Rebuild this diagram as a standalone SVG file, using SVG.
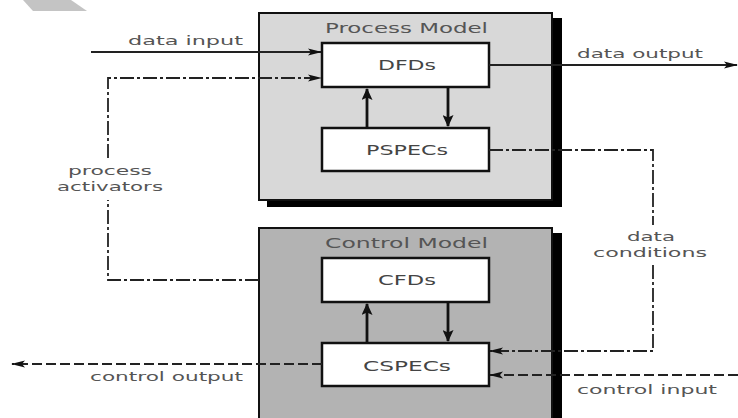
<svg xmlns="http://www.w3.org/2000/svg" width="738" height="418" viewBox="0 0 738 418">
  <style>
    .frame { stroke: #111; stroke-width: 2; }
    .shadow { fill: #000; }
    .box { fill: #fff; stroke: #111; stroke-width: 2.5; }
    .title { font-family: "DejaVu Sans", "Liberation Sans", sans-serif; font-size: 13.5px; fill: #555; }
    .nlabel { font-family: "DejaVu Sans", "Liberation Sans", sans-serif; font-size: 13.5px; fill: #444; text-anchor: middle; }
    .clabel { font-family: "DejaVu Sans", "Liberation Sans", sans-serif; font-size: 12.5px; fill: #555; }
    .stack { font-size: 11.5px; }
    .solid { fill: none; stroke: #222; stroke-width: 1.8; }
    .dashdot { fill: none; stroke: #222; stroke-width: 1.8; stroke-dasharray: 14 3 3 3; }
    .dashed { fill: none; stroke: #222; stroke-width: 1.8; stroke-dasharray: 10 4; }
    .inner { fill: none; stroke: #111; stroke-width: 2.8; }
  </style>
  <defs>
    <marker id="ah" viewBox="0 0 14 8" refX="13" refY="4" markerWidth="14" markerHeight="8" markerUnits="userSpaceOnUse" orient="auto">
      <path d="M0,0.5 L14,4 L0,7.5 L3,4 Z" fill="#111"/>
    </marker>
    <marker id="ah2" viewBox="0 0 12 11" refX="11" refY="5.5" markerWidth="12" markerHeight="11" markerUnits="userSpaceOnUse" orient="auto">
      <path d="M0,0 L12,5.5 L0,11 L2.5,5.5 Z" fill="#111"/>
    </marker>
  </defs>

  <rect width="738" height="418" fill="#fff"/>
  <polygon points="23,0 71,0 87,11 33,11" fill="#c4c4c4"/>

  <g id="process-model">
    <rect class="shadow" x="267" y="18" width="295" height="189"/>
    <rect class="frame" x="259" y="13" width="293" height="187" fill="#d8d8d8"/>
    <text class="title" x="325" y="33" textLength="163" lengthAdjust="spacingAndGlyphs">Process Model</text>
  </g>

  <g id="control-model">
    <rect class="shadow" x="267" y="233" width="295" height="190"/>
    <rect class="frame" x="259" y="228" width="293" height="195" fill="#b3b3b3"/>
    <text class="title" x="325" y="248" textLength="163" lengthAdjust="spacingAndGlyphs">Control Model</text>
  </g>

  <g id="dfds">
    <rect class="box" x="322" y="43" width="167" height="44"/>
    <text class="nlabel" x="407" y="70" textLength="58" lengthAdjust="spacingAndGlyphs">DFDs</text>
  </g>

  <g id="pspecs">
    <rect class="box" x="322" y="128" width="167" height="43"/>
    <text class="nlabel" x="407" y="155" textLength="82" lengthAdjust="spacingAndGlyphs">PSPECs</text>
  </g>

  <g id="cfds">
    <rect class="box" x="322" y="258" width="167" height="44"/>
    <text class="nlabel" x="407" y="285" textLength="58" lengthAdjust="spacingAndGlyphs">CFDs</text>
  </g>

  <g id="cspecs">
    <rect class="box" x="322" y="343" width="167" height="43"/>
    <text class="nlabel" x="407" y="371" textLength="88" lengthAdjust="spacingAndGlyphs">CSPECs</text>
  </g>

  <g id="connectors">
    <line class="inner" x1="367" y1="128" x2="367" y2="89" marker-end="url(#ah2)"/>
    <line class="inner" x1="448" y1="87" x2="448" y2="126" marker-end="url(#ah2)"/>
    <line class="inner" x1="367" y1="343" x2="367" y2="304" marker-end="url(#ah2)"/>
    <line class="inner" x1="448" y1="302" x2="448" y2="341" marker-end="url(#ah2)"/>

    <line class="solid" x1="91" y1="52" x2="321" y2="52" marker-end="url(#ah)"/>
    <line class="solid" x1="489" y1="65" x2="737" y2="65" marker-end="url(#ah)"/>
    <path class="dashdot" d="M259,280 L108,280 L108,200"/>
    <path class="dashdot" d="M108,158 L108,78 L321,78" marker-end="url(#ah)"/>
    <path class="dashdot" d="M489,150 L653,150 L653,225"/>
    <path class="dashdot" d="M653,265 L653,351 L490,351" marker-end="url(#ah)"/>
    <line class="dashed" x1="322" y1="364" x2="12" y2="364" marker-end="url(#ah)"/>
    <line class="dashed" x1="738" y1="375" x2="490" y2="375" marker-end="url(#ah)"/>

    <text class="clabel" x="128" y="45" textLength="115" lengthAdjust="spacingAndGlyphs">data input</text>
    <text class="clabel" x="577" y="58" textLength="126" lengthAdjust="spacingAndGlyphs">data output</text>
    <text class="clabel stack" x="68" y="175" textLength="84" lengthAdjust="spacingAndGlyphs">process</text>
    <text class="clabel stack" x="57" y="191" textLength="106" lengthAdjust="spacingAndGlyphs">activators</text>
    <text class="clabel stack" x="627" y="241" textLength="48" lengthAdjust="spacingAndGlyphs">data</text>
    <text class="clabel stack" x="593" y="257" textLength="114" lengthAdjust="spacingAndGlyphs">conditions</text>
    <text class="clabel" x="90" y="381" textLength="153" lengthAdjust="spacingAndGlyphs">control output</text>
    <text class="clabel" x="577" y="394" textLength="140" lengthAdjust="spacingAndGlyphs">control input</text>
  </g>
</svg>
